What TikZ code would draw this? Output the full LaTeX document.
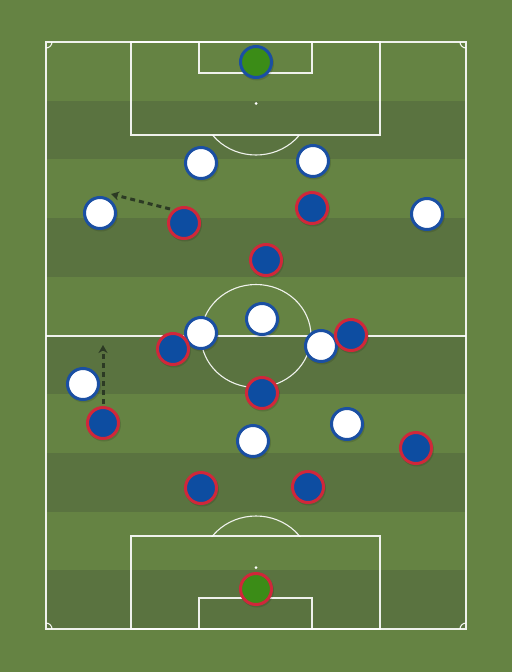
\documentclass[tikz,border=0pt]{standalone}
\usetikzlibrary{arrows.meta}
\definecolor{grasslight}{HTML}{658343}
\definecolor{grassdark}{HTML}{5A7340}
\definecolor{kitblue}{HTML}{0D4DA1}
\definecolor{rimblue}{HTML}{1A4FA3}
\definecolor{rimred}{HTML}{D0273A}
\definecolor{gkgreen}{HTML}{3B8C17}
\definecolor{arrowdark}{HTML}{2C3A24}
\tikzset{
  pline/.style={draw=white, line width=1.1pt, opacity=0.9},
  plr/.style={circle, minimum size=31pt, inner sep=0pt, line width=3pt},
  homeplr/.style={plr, draw=rimblue, fill=white},
  awayplr/.style={plr, draw=rimred, fill=kitblue},
  gkhome/.style={plr, draw=rimblue, fill=gkgreen},
  gkaway/.style={plr, draw=rimred, fill=gkgreen},
  runarrow/.style={draw=arrowdark, line width=3pt, dash pattern=on 5pt off 4pt, -{Stealth[length=8pt,width=9pt]}, shorten >=0pt},
  shadowdot/.style={fill=black, opacity=0.12}
}
\begin{document}
\begin{tikzpicture}[x=1pt,y=-1pt]
\useasboundingbox (0,0) rectangle (512,672);
\fill[grasslight] (0,0) rectangle (512,672);
% stripes
\foreach \i in {1,3,5,7,9} {
  \fill[grassdark] (46,{42+\i*58.7}) rectangle (466,{42+(\i+1)*58.7});
}
% pitch outline
\draw[pline] (46,42) rectangle (466,629);
\draw[pline] (46,336) -- (466,336);
\draw[pline] (256,336) ellipse [x radius=55, y radius=51.5];
% top penalty area
\draw[pline] (131,42) rectangle (380,135);
\draw[pline] (199,42) rectangle (312,73);
\fill[white] (256,103.5) circle (1.5);
\begin{scope}
  \clip (131,135) rectangle (380,200);
  \draw[pline] (256,103.5) ellipse [x radius=55, y radius=51.5];
\end{scope}
% bottom penalty area
\draw[pline] (131,536) rectangle (380,629);
\draw[pline] (199,598) rectangle (312,629);
\fill[white] (256,567.5) circle (1.5);
\begin{scope}
  \clip (131,470) rectangle (380,536);
  \draw[pline] (256,567.5) ellipse [x radius=55, y radius=51.5];
\end{scope}
% corner arcs
\draw[pline] (52,42) arc[start angle=0, end angle=90, x radius=6, y radius=6];
\draw[pline] (460,42) arc[start angle=180, end angle=90, x radius=6, y radius=6];
\draw[pline] (52,629) arc[start angle=0, end angle=-90, x radius=6, y radius=6];
\draw[pline] (460,629) arc[start angle=180, end angle=270, x radius=6, y radius=6];
% shadows
\foreach \x/\y in {256/62,201/163,313/161,100/213,427/214,262/319,201/333,321/346,83/384,347/424,253/441,
                   184/223,312/208,266/260,173/349,351/335,262/393,103/423,416/448,201/488,308/487,256/589} {
  \fill[shadowdot] (\x+1,\y+1.5) circle (17);
}
% home team (white)
\node[gkhome] (hgk) at (256,62) {};
\node[homeplr] (h1) at (201,163) {};
\node[homeplr] (h2) at (313,161) {};
\node[homeplr] (h3) at (100,213) {};
\node[homeplr] (h4) at (427,214) {};
\node[homeplr] (h5) at (262,319) {};
\node[homeplr] (h6) at (201,333) {};
\node[homeplr] (h7) at (321,346) {};
\node[homeplr] (h8) at (83,384) {};
\node[homeplr] (h9) at (347,424) {};
\node[homeplr] (h10) at (253,441) {};
% away team (blue)
\node[awayplr] (a1) at (184,223) {};
\node[awayplr] (a2) at (312,208) {};
\node[awayplr] (a3) at (266,260) {};
\node[awayplr] (a4) at (173,349) {};
\node[awayplr] (a5) at (351,335) {};
\node[awayplr] (a6) at (262,393) {};
\node[awayplr] (a7) at (103,423) {};
\node[awayplr] (a8) at (416,448) {};
\node[awayplr] (a9) at (201,488) {};
\node[awayplr] (a10) at (308,487) {};
\node[gkaway] (agk) at (256,589) {};
% runs
\coordinate (r1end) at (111,194);
\coordinate (r2end) at (103,345);
\draw[runarrow] (a1.north west) ++(-2,-2) -- (r1end);
\draw[runarrow] (a7.north) ++(0,-2) -- (r2end);
\end{tikzpicture}
\end{document}
